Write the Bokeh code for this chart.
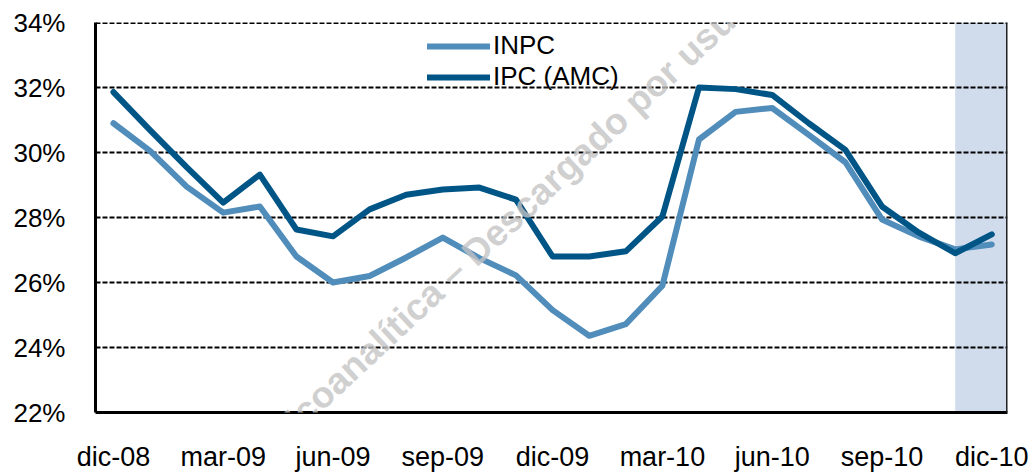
from bokeh.plotting import figure
from bokeh.models import (FixedTicker, PrintfTickFormatter, BoxAnnotation, Span,
                          Legend, LegendItem, Label, Range1d)
from bokeh.embed import file_html
from bokeh.resources import INLINE

months = ["dic-08", "ene-09", "feb-09", "mar-09", "abr-09", "may-09", "jun-09",
          "jul-09", "ago-09", "sep-09", "oct-09", "nov-09", "dic-09", "ene-10",
          "feb-10", "mar-10", "abr-10", "may-10", "jun-10", "jul-10", "ago-10",
          "sep-10", "oct-10", "nov-10", "dic-10"]
inpc = [30.9, 30.05, 28.95, 28.15, 28.34, 26.8, 26.0, 26.2, 26.77, 27.38, 26.75,
        26.22, 25.15, 24.36, 24.72, 25.9, 30.4, 31.25, 31.37, 30.54, 29.7, 27.94,
        27.42, 27.02, 27.17]
ipc = [31.86, 30.69, 29.55, 28.46, 29.32, 27.63, 27.42, 28.25, 28.7, 28.86, 28.92,
       28.55, 26.8, 26.8, 26.96, 28.03, 32.0, 31.95, 31.77, 30.9, 30.08, 28.34,
       27.54, 26.9, 27.48]
y_ticks = [22, 24, 26, 28, 30, 32, 34]
x_tick_idx = list(range(0, len(months), 3))
forecast_start = 23

FONT = "Liberation Sans"
LIGHT = "#508DBB"
DARK = "#005587"

x = list(range(len(months)))
X_END = 24.43

p = figure(width=1032, height=474, output_backend="svg", toolbar_location=None,
           x_range=Range1d(-0.49, X_END), y_range=Range1d(y_ticks[0], y_ticks[-1]),
           min_border_left=95, min_border_right=25, min_border_top=22,
           min_border_bottom=60)
p.outline_line_color = None
p.background_fill_color = "white"

shade = BoxAnnotation(left=forecast_start, right=X_END, fill_color="#D0DCEC",
                      fill_alpha=1.0, line_color=None, level="image")
p.add_layout(shade)

r1 = p.line(x, inpc, line_color=LIGHT, line_width=6, line_join="round", line_cap="round")
r2 = p.line(x, ipc, line_color=DARK, line_width=6, line_join="round", line_cap="round")

# grid
p.xgrid.grid_line_color = None
p.ygrid.ticker = FixedTicker(ticks=y_ticks[1:])
p.ygrid.grid_line_color = "black"
p.ygrid.grid_line_width = 1.8
p.ygrid.grid_line_dash = "5 2"

top_line = Span(location=y_ticks[-1], dimension="width", line_color="black",
                line_width=3, line_dash="5 2")
p.add_layout(top_line)

# axes
p.yaxis.ticker = FixedTicker(ticks=y_ticks)
p.yaxis.formatter = PrintfTickFormatter(format="%d%%")
p.xaxis.ticker = FixedTicker(ticks=x_tick_idx)
p.xaxis.major_label_overrides = {i: months[i] for i in x_tick_idx}
for ax in (p.xaxis, p.yaxis):
    ax.axis_line_color = "black"
    ax.axis_line_width = 3
    ax.major_tick_line_color = None
    ax.minor_tick_line_color = None
    ax.major_tick_out = 0
    ax.major_tick_in = 0
    ax.major_label_text_font = FONT
    ax.major_label_text_color = "black"
p.yaxis.major_label_text_font_size = "26px"
p.xaxis.major_label_text_font_size = "27px"
p.yaxis.major_label_standoff = 30
p.xaxis.major_label_standoff = 29

right_border = Span(location=X_END, dimension="height", line_color="#222222", line_width=3)
p.add_layout(right_border)

legend = Legend(items=[LegendItem(label="INPC", renderers=[r1]),
                       LegendItem(label="IPC (AMC)", renderers=[r2])],
                location=(332, 320), orientation="vertical")
legend.background_fill_alpha = 0
legend.border_line_color = None
legend.margin = 0
legend.padding = 0
legend.spacing = 0
legend.glyph_width = 63
legend.glyph_height = 26
legend.label_height = 26
legend.label_standoff = 3
legend.label_text_font = FONT
legend.label_text_font_size = "26px"
legend.label_text_color = "black"
p.add_layout(legend)

wm = Label(x=3.8, y=20.55, text="© Ecoanalítica – Descargado por usuario",
           angle=43, angle_units="deg", text_font=FONT, text_font_size="37px",
           text_font_style="bold", text_color="#C4C4C4", text_alpha=0.8,
           text_baseline="alphabetic", text_align="left")
p.add_layout(wm)

open("out.html", "w").write(file_html(p, INLINE))
